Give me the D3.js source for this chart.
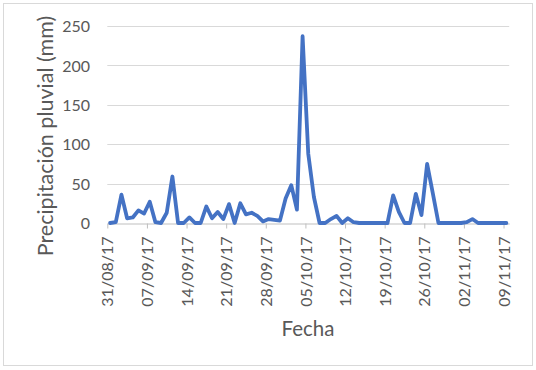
<!DOCTYPE html>
<html><head><meta charset="utf-8">
<script src="https://cdn.jsdelivr.net/npm/d3@7"></script>
<style>
html,body{margin:0;padding:0;background:#fff;}
svg{display:block;font-family:Lato,"Open Sans",sans-serif;}
</style></head>
<body><svg id="c" width="536" height="370"></svg>
<script>
// Daily rainfall (mm) from 31/08/17 to 09/11/17
const startDate = "31/08/17";
const rain = [0,1,36,6,7,16,12,27,1,0,13,59,0,0,7,0,0,21,6,14,5,24,0,25,11,13,9,2,5,4,3,31,48,17,237,88,33,0,0,5,9,0,6,1,0,0,0,0,0,0,35,14,0,0,37,10,75,38,0,0,0,0,0,1,5,0,0,0,0,0,0];
const tickLabels = ["31/08/17","07/09/17","14/09/17","21/09/17","28/09/17","05/10/17","12/10/17","19/10/17","26/10/17","02/11/17","09/11/17"];
const yTicks = [0,50,100,150,200,250];
const yTitle = "Precipitación pluvial (mm)";
const xTitle = "Fecha";

const parse = d3.utcParse("%d/%m/%y");
const fmt = d3.utcFormat("%d/%m/%y");
const t0 = parse(startDate);
const data = rain.map((v,i)=>({date:d3.utcDay.offset(t0,i), v}));
const tEnd = d3.utcDay.offset(t0, rain.length);

const svg = d3.select("#c");
const textCol = "#595959";

svg.append("rect").attr("x",3.5).attr("y",3.5).attr("width",529).attr("height",362)
  .attr("fill","#fff").attr("stroke","#d9d9d9").attr("stroke-width",1);

const x = d3.scaleUtc().domain([t0,tEnd]).range([107.3,509.2]);
const y = d3.scaleLinear().domain([0,250]).range([223,26]);

// gridlines
svg.append("g").selectAll("line").data(yTicks.filter(d=>d>0)).join("line")
  .attr("x1",x.range()[0]).attr("x2",x.range()[1])
  .attr("y1",d=>Math.round(y(d))+0.5).attr("y2",d=>Math.round(y(d))+0.5)
  .attr("stroke","#d9d9d9").attr("stroke-width",1);

// y axis labels
const yAxis = d3.axisLeft(y).tickValues(yTicks).tickSize(0).tickPadding(0);
const gy = svg.append("g").attr("transform","translate(90,0)").call(yAxis);
gy.select(".domain").remove();
gy.selectAll("text").attr("fill",textCol).style("font-size","16px").style("font-family","Lato").attr("dy","0.35em");

// x axis
const tickDates = tickLabels.map(parse);
const xAxis = d3.axisBottom(x).tickValues(tickDates).tickFormat(fmt).tickSize(5).tickSizeOuter(0);
const gx = svg.append("g").attr("transform",`translate(0,${Math.round(y(0))+0.5})`).call(xAxis);
gx.select(".domain").attr("stroke","#bfbfbf");
gx.selectAll(".tick line").attr("stroke","#bfbfbf");
gx.selectAll(".tick text").attr("fill",textCol).style("font-size","16px").style("font-family","Lato")
  .attr("text-anchor","end").attr("transform","rotate(-90)")
  .attr("x",-13).attr("y",0).attr("dy","0.35em").attr("dx",0);

// line (points centred in each day)
const line = d3.line().x(d=>x(d3.utcHour.offset(d.date,12))).y(d=>y(d.v)).curve(d3.curveLinear);
svg.append("path").datum(data).attr("d",line).attr("fill","none")
  .attr("stroke","#4472C4").attr("stroke-width",3.8).attr("stroke-linejoin","round").attr("stroke-linecap","round");

// titles
svg.append("text").attr("transform","translate(53,136) rotate(-90)").attr("text-anchor","middle")
  .attr("fill",textCol).style("font-size","21.5px").style("font-family","Lato").text(yTitle);
svg.append("text").attr("x",308).attr("y",336).attr("text-anchor","middle")
  .attr("fill",textCol).style("font-size","20.5px").style("font-family","Lato").text(xTitle);
</script></body></html>
